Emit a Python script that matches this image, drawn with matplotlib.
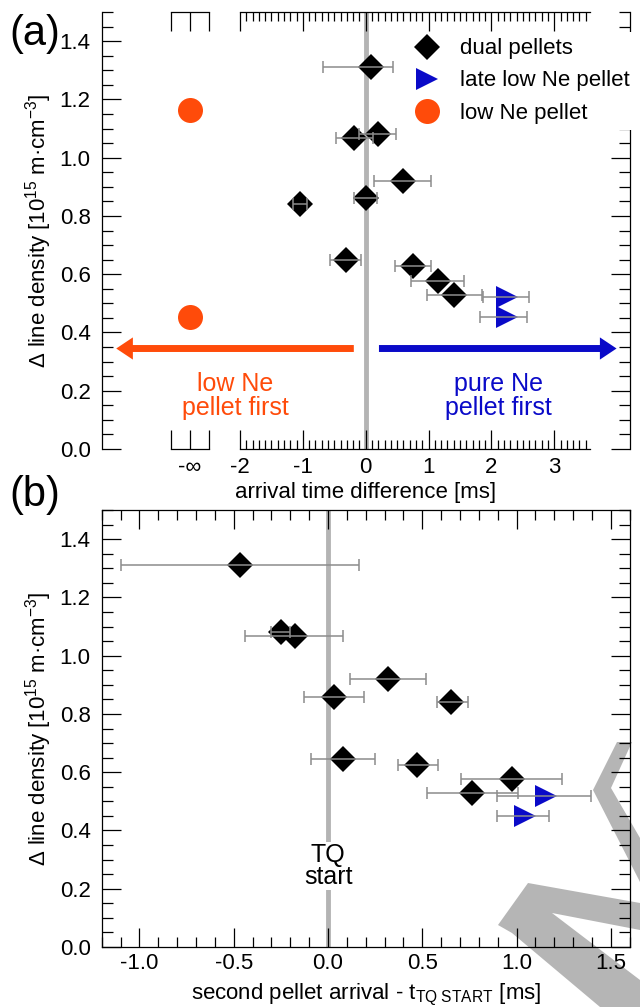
import matplotlib
matplotlib.use('Agg')
import matplotlib.pyplot as plt
from matplotlib.lines import Line2D
from matplotlib.patches import Polygon
from matplotlib.ticker import MultipleLocator
import numpy as np

plt.rcParams['font.family'] = ['Liberation Sans', 'DejaVu Sans']
plt.rcParams['mathtext.fontset'] = 'custom'
plt.rcParams['mathtext.rm'] = 'Liberation Sans'
plt.rcParams['mathtext.it'] = 'Liberation Sans:italic'
plt.rcParams['axes.unicode_minus'] = False

ORANGE = '#ff4b0a'
BLUE = '#0a0ac8'
ZERO_LINE = '#b4b4b4'
ERR = '#8c8c8c'

# --- panel (a): arrival time difference [ms] ---
a_dual_x = [0.08, -0.18, 0.19, 0.59, 0.0, -1.04, -0.32, 0.75, 1.15, 1.41]
a_dual_y = [1.31, 1.066, 1.081, 0.92, 0.86, 0.84, 0.65, 0.628, 0.577, 0.529]
a_dual_lo = [-0.68, -0.47, -0.11, 0.13, -0.19, -1.15, -0.57, 0.46, 0.72, 0.97]
a_dual_hi = [0.44, 0.12, 0.48, 1.04, 0.18, -0.94, -0.08, 1.04, 1.57, 1.85]

a_late_x = [2.25, 2.24]
a_late_y = [0.523, 0.452]
a_late_lo = [1.86, 1.82]
a_late_hi = [2.60, 2.57]

# low Ne pellet only -> drawn at "-inf"
a_low_x = [-2.8, -2.8]
a_low_y = [1.163, 0.454]

# --- panel (b): second pellet arrival - t_TQ START [ms] ---
b_dual_x = [-0.465, -0.249, -0.175, 0.318, 0.03, 0.654, 0.08, 0.474, 0.974, 0.764]
b_dual_y = [1.31, 1.083, 1.066, 0.921, 0.857, 0.84, 0.646, 0.625, 0.575, 0.527]
b_dual_lo = [-1.10, -0.30, -0.44, 0.115, -0.13, 0.578, -0.089, 0.372, 0.706, 0.524]
b_dual_hi = [0.162, -0.20, 0.08, 0.519, 0.19, 0.74, 0.249, 0.582, 1.243, 1.005]

b_late_x = [1.158, 1.047]
b_late_y = [0.519, 0.45]
b_late_lo = [0.894, 0.894]
b_late_hi = [1.394, 1.173]

a_tick_pos = [-3.1, -2.8, -2.5, -2, -1, 0, 1, 2, 3]
a_tick_lab = ['', '-\u221e', '', '-2', '-1', '0', '1', '2', '3']

ylabel = '\u0394 line density [10$^{15}$ m\u00b7cm$^{-3}$]'


def xerr(x, lo, hi):
    x = np.array(x)
    return [x - np.array(lo), np.array(hi) - x]


def style_y(ax):
    ax.set_ylim(0, 1.5)
    ax.set_yticks(np.arange(0, 1.41, 0.2))
    ax.yaxis.set_minor_locator(MultipleLocator(0.05))
    ax.tick_params(axis='y', which='both', direction='in', left=True, right=True,
                   labelsize=16, pad=8, width=0.9)
    ax.tick_params(axis='y', which='major', length=14)
    ax.tick_params(axis='y', which='minor', length=8)
    ax.set_ylabel(ylabel, fontsize=16)
    ax.yaxis.set_label_coords(-0.09, 0.5)
    for s in ax.spines.values():
        s.set_linewidth(0.9)


def draw_points(ax, dx, dy, dlo, dhi, lx, ly, llo, lhi):
    ax.axvline(0, color=ZERO_LINE, lw=3.5, zorder=1)
    ax.plot(dx, dy, 'D', color='black', ms=13, mew=0, zorder=3, label='dual pellets')
    ax.plot(lx, ly, '>', color=BLUE, ms=16, mew=0, zorder=3, label='late low Ne pellet')
    ax.errorbar(dx, dy, xerr=xerr(dx, dlo, dhi), fmt='none', ecolor=ERR,
                elinewidth=1.1, capsize=4, capthick=1.1, zorder=4)
    ax.errorbar(lx, ly, xerr=xerr(lx, llo, lhi), fmt='none', ecolor=ERR,
                elinewidth=1.1, capsize=4, capthick=1.1, zorder=4)


fig = plt.figure(figsize=(6.4, 10.07), dpi=100)
ax_a = fig.add_axes([0.159, 0.5541, 0.825, 0.434])
ax_b = fig.add_axes([0.159, 0.0596, 0.825, 0.4339])
for ax in (ax_a, ax_b):
    ax.set_facecolor('none')

# ---------------- (a) ----------------
draw_points(ax_a, a_dual_x, a_dual_y, a_dual_lo, a_dual_hi,
            a_late_x, a_late_y, a_late_lo, a_late_hi)
ax_a.plot(a_low_x, a_low_y, 'o', color=ORANGE, ms=18, mew=0, zorder=3, label='low Ne pellet')

ax_a.set_xlim(-4.2, 4.2)
ax_a.spines['top'].set_visible(False)
ax_a.spines['bottom'].set_visible(False)
ax_a.set_xticks(a_tick_pos)
ax_a.set_xticklabels(a_tick_lab)
minor = [v / 10 for v in range(-19, 36) if v % 10 != 0]
ax_a.set_xticks(minor, minor=True)
ax_a.tick_params(axis='x', which='both', direction='in', top=True, bottom=True,
                 labelsize=16, pad=6, width=0.9)
ax_a.tick_params(axis='x', which='major', length=14)
ax_a.tick_params(axis='x', which='minor', length=6.5)
# broken axis rulers
xt = ax_a.get_xaxis_transform()
for yy in (0, 1):
    ax_a.plot([-2, 3.57], [yy, yy], color='black', lw=0.9, transform=xt, clip_on=False)
    ax_a.plot([-3.1, -2.5], [yy, yy], color='black', lw=0.9, transform=xt, clip_on=False)
ax_a.set_xlabel('arrival time difference [ms]', fontsize=16)
ax_a.xaxis.set_label_coords(0.5, -0.075)
style_y(ax_a)

arrow_kw = dict(arrowstyle='simple,head_length=1.2,head_width=1.6,tail_width=0.5',
                mutation_scale=10, shrinkA=0, shrinkB=0, lw=0)
ax_a.annotate('', xy=(-3.97, 0.345), xytext=(-0.19, 0.345),
              arrowprops=dict(color=ORANGE, **arrow_kw), zorder=3)
ax_a.annotate('', xy=(3.99, 0.345), xytext=(0.21, 0.345),
              arrowprops=dict(color=BLUE, **arrow_kw), zorder=3)
ax_a.text(-2.08, 0.182, 'low Ne\npellet first', color=ORANGE, fontsize=18,
          ha='center', va='center', linespacing=0.95)
ax_a.text(2.11, 0.182, 'pure Ne\npellet first', color=BLUE, fontsize=18,
          ha='center', va='center', linespacing=0.95)

handles = [
    Line2D([], [], marker='D', color='black', ms=13, mew=0, ls='none'),
    Line2D([], [], marker='>', color=BLUE, ms=16, mew=0, ls='none'),
    Line2D([], [], marker='o', color=ORANGE, ms=18, mew=0, ls='none'),
]
leg = ax_a.legend(handles, ['dual pellets', 'late low Ne pellet', 'low Ne pellet'],
                  loc='upper left', bbox_to_anchor=(0.578, 0.955), fontsize=16,
                  frameon=True, fancybox=False, framealpha=1, facecolor='white',
                  edgecolor='none', handlelength=1.2, handletextpad=0.9,
                  labelspacing=0.5, borderpad=0.3, borderaxespad=0)
leg.set_zorder(6)

# ---------------- (b) ----------------
draw_points(ax_b, b_dual_x, b_dual_y, b_dual_lo, b_dual_hi,
            b_late_x, b_late_y, b_late_lo, b_late_hi)
ax_b.set_xlim(-1.2, 1.6)
ax_b.xaxis.set_major_locator(MultipleLocator(0.5))
ax_b.xaxis.set_minor_locator(MultipleLocator(0.1))
ax_b.tick_params(axis='x', which='both', direction='in', top=True, bottom=True,
                 labelsize=16, pad=4, width=0.9)
ax_b.tick_params(axis='x', which='major', length=14)
ax_b.tick_params(axis='x', which='minor', length=7)
ax_b.set_xlabel('second pellet arrival - t$_{\\mathrm{TQ\\ START}}$ [ms]', fontsize=16)
ax_b.xaxis.set_label_coords(0.5, -0.08)
style_y(ax_b)
ax_b.text(0, 0.278, 'TQ\nstart', fontsize=18, ha='center', va='center', linespacing=0.85,
          zorder=2, bbox=dict(facecolor='white', edgecolor='none', pad=1))

fig.text(0.014, 0.966, '(a)', fontsize=30, va='center', ha='left')
fig.text(0.014, 0.508, '(b)', fontsize=30, va='center', ha='left')

# grey watermark strokes in the lower right corner
W, H = 640.0, 1007.0
shape_a = [(617, 742), (632, 742), (611, 788), (640, 838), (640, 882), (593, 790)]
shape_b = [(498, 925), (528, 883), (640, 903), (640, 930), (552, 913), (640, 980),
           (640, 1007), (600, 1007), (512, 933)]
for pts in (shape_a, shape_b):
    poly = Polygon([(x / W, 1 - y / H) for x, y in pts], closed=True,
                   facecolor='#b5b5b5', edgecolor='none', transform=fig.transFigure,
                   zorder=-1)
    fig.add_artist(poly)

fig.savefig('out.png', dpi=100)
